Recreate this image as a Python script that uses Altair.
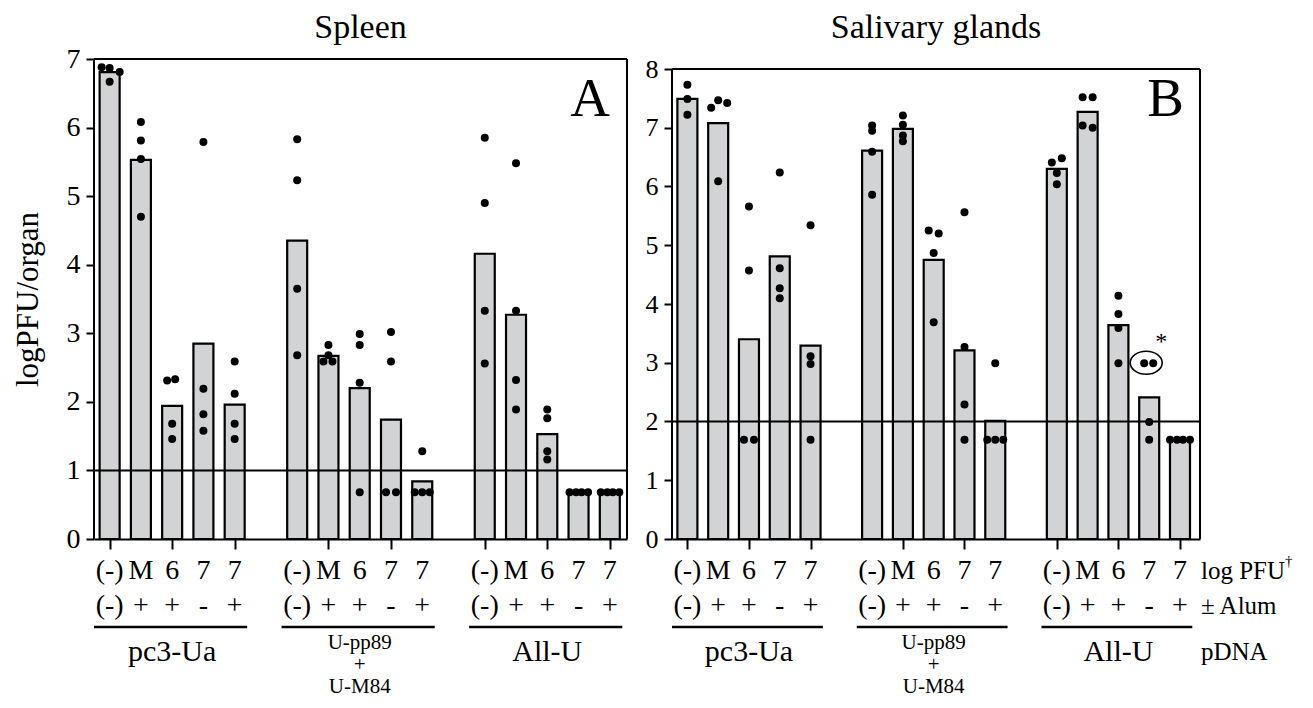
import altair as alt
import pandas as pd

FONT = "Liberation Serif"

dose_labels = ["(-)", "M", "6", "7", "7"]
alum_labels = ["(-)", "+", "+", "-", "+"]
group_names = ["pc3-Ua", "U-pp89\n+\nU-M84", "All-U"]

# ---- Panel A: Spleen ----
spleen_bars = [
    [6.81, 5.53, 1.94, 2.85, 1.96],
    [4.35, 2.67, 2.20, 1.74, 0.84],
    [4.16, 3.27, 1.53, 0.68, 0.68],
]
spleen_dots = [
    [[6.88, 6.87, 6.81, 6.67], [6.08, 5.81, 5.54, 4.70], [2.31, 2.33, 1.68, 1.46],
     [5.79, 2.19, 1.82, 1.58], [2.59, 2.12, 1.68, 1.46]],
    [[5.83, 5.23, 3.65, 2.68], [2.83, 2.68, 2.59, 2.59], [2.99, 2.83, 2.28, 0.68],
     [3.02, 2.59, 0.68, 0.68], [1.28, 0.68, 0.68, 0.68]],
    [[5.85, 4.90, 3.33, 2.56], [5.48, 3.33, 2.32, 1.89], [1.89, 1.76, 1.28, 1.16],
     [0.68, 0.68, 0.68, 0.68], [0.68, 0.68, 0.68, 0.68]],
]
spleen_jitter = [
    [[-8, 0, 10, 0], [0, 0, 0, 0], [-5, 3, 0, 0], [0, 0, 0, 0], [0, 0, 0, 0]],
    [[0, 0, 0, 0], [0, 0, -5, 4], [0, 0, 0, 0], [0, 0, -5, 5], [0, -7.5, 0, 7.5]],
    [[0, 0, 0, 0], [0, 0, 0, 0], [0, 0, 0, 0], [-9, -2.5, 3, 9.5], [-9, -2.5, 3, 9.5]],
]

# ---- Panel B: Salivary glands ----
saliva_bars = [
    [7.49, 7.08, 3.40, 4.81, 3.29],
    [6.61, 6.98, 4.75, 3.21, 2.01],
    [6.30, 7.27, 3.64, 2.41, 1.70],
]
saliva_dots = [
    [[7.73, 7.49, 7.22], [7.34, 7.47, 7.42, 6.09], [5.66, 4.57, 1.69, 1.69],
     [6.24, 4.61, 4.27, 4.10], [5.34, 3.11, 2.98, 1.69]],
    [[7.04, 6.95, 6.59, 5.86], [7.21, 7.05, 6.87, 6.77], [5.25, 5.20, 4.87, 3.69],
     [5.56, 3.27, 2.29, 1.69], [2.99, 1.69, 1.69, 1.69]],
    [[6.41, 6.48, 6.23, 6.04], [7.52, 7.52, 7.04, 7.00], [4.14, 3.83, 3.59, 2.99],
     [2.99, 2.99, 1.99, 1.69], [1.69, 1.69, 1.69, 1.69]],
]
saliva_jitter = [
    [[0, 0, 0], [-7, 0, 9, 0], [0, 0, -5, 5], [0, 0, 0, 0], [0, 0, 0, 0]],
    [[0, 0, 0, 0], [0, 0, 0, 0], [-5, 5, 0, 0], [0, 0, 0, 0], [0, -8, 0, 8]],
    [[-5, 5, 0, 0], [-5, 5, -5, 5], [0, 0, 0, 0], [-5, 4, 0, 0], [-10, -3, 3, 10]],
]

BAR_FILL = "#d2d3d5"


def txt(df, size, **kw):
    return alt.Chart(df).mark_text(font=FONT, fontSize=size, color="black", **kw)


def panel(bars, dots, jitter, top, ymax, xdom, width, height, thresh, letter,
          letter_x, title, ytitle, right_labels=False, circle=None):
    slot_px = width / (xdom[1] - xdom[0])
    positions = [g * 6 + i for g in range(3) for i in range(5)]
    bar_df = pd.DataFrame({
        "pos": positions,
        "v": [bars[g][i] for g in range(3) for i in range(5)],
    })
    drows = []
    for g in range(3):
        for i in range(5):
            for v, j in zip(dots[g][i], jitter[g][i]):
                drows.append({"x": g * 6 + i + j / slot_px, "v": v})
    dot_df = pd.DataFrame(drows)

    xs = alt.Scale(domain=xdom, nice=False, zero=False, padding=0)
    ys = alt.Scale(domain=[0, ymax], nice=False)

    x_axis = alt.Axis(values=positions, labels=False, title=None, tickSize=10,
                      tickWidth=2, tickColor="black", domainColor="black",
                      domainWidth=2, grid=False)
    y_axis_kw = dict(values=list(range(top + 1)), format="d", domain=False,
                     grid=False, tickSize=8, tickWidth=2, tickColor="black",
                     labelFont=FONT, labelFontSize=28 if ytitle else 26,
                     labelColor="black", labelPadding=6)
    if ytitle:
        y_axis = alt.Axis(title=ytitle, titleFont=FONT, titleFontSize=31,
                          titleFontWeight="normal", titleColor="black",
                          titlePadding=22, **y_axis_kw)
    else:
        y_axis = alt.Axis(title=None, **y_axis_kw)

    bar_layer = alt.Chart(bar_df).mark_bar(
        size=20, fill=BAR_FILL, stroke="black", strokeWidth=2.2
    ).encode(x=alt.X("pos:Q", scale=xs, axis=x_axis),
             y=alt.Y("v:Q", scale=ys, axis=y_axis))

    dot_layer = alt.Chart(dot_df).mark_circle(
        size=64, color="black", opacity=1
    ).encode(x=alt.X("x:Q", scale=xs), y=alt.Y("v:Q", scale=ys))

    thresh_layer = alt.Chart(pd.DataFrame({"v": [thresh]})).mark_rule(
        color="black", strokeWidth=2
    ).encode(y=alt.Y("v:Q", scale=ys))

    frame_top = alt.Chart(pd.DataFrame({"v": [top]})).mark_rule(
        color="black", strokeWidth=2
    ).encode(y=alt.Y("v:Q", scale=ys))
    frame_sides = alt.Chart(pd.DataFrame({
        "x": [xdom[0], xdom[1]], "y0": [0, 0], "y1": [top, top]
    })).mark_rule(color="black", strokeWidth=2).encode(
        x=alt.X("x:Q", scale=xs), y=alt.Y("y0:Q", scale=ys), y2="y1:Q")

    lab_df = pd.DataFrame({
        "pos": positions,
        "dose": dose_labels * 3,
        "alum": alum_labels * 3,
    })
    dose_layer = txt(lab_df, 28, baseline="middle").encode(
        x=alt.X("pos:Q", scale=xs), y=alt.value(height + 32), text="dose:N")
    alum_layer = txt(lab_df, 28, baseline="middle").encode(
        x=alt.X("pos:Q", scale=xs), y=alt.value(height + 67), text="alum:N")

    ul_df = pd.DataFrame({"x0": [g * 6 - 0.5 for g in range(3)],
                          "x1": [g * 6 + 4.4 for g in range(3)]})
    ul_layer = alt.Chart(ul_df).mark_rule(color="black", strokeWidth=2.5).encode(
        x=alt.X("x0:Q", scale=xs), x2="x1:Q", y=alt.value(height + 88))

    g_df = pd.DataFrame({"pos": [2, 14], "name": [group_names[0], group_names[2]]})
    g_layer = txt(g_df, 30, baseline="middle").encode(
        x=alt.X("pos:Q", scale=xs), y=alt.value(height + 113), text="name:N")
    mid_lines = group_names[1].split("\n")
    m_df = pd.DataFrame({"pos": [8] * 3, "name": mid_lines,
                         "yy": [height + 104, height + 126, height + 148]})
    m_layer = txt(m_df, 21, baseline="middle").encode(
        x=alt.X("pos:Q", scale=xs), y=alt.Y("yy:Q", scale=None), text="name:N")

    letter_layer = txt(pd.DataFrame({"t": [letter]}), 55, align="right",
                       baseline="alphabetic").encode(
        x=alt.value(letter_x), y=alt.value(57), text="t:N")

    title_layer = txt(pd.DataFrame({"t": [title]}), 34, align="center",
                      baseline="alphabetic").encode(
        x=alt.value(width / 2), y=alt.value(-21), text="t:N")

    layers = [bar_layer, thresh_layer, frame_top, frame_sides, dot_layer,
              dose_layer, alum_layer, ul_layer, g_layer, m_layer, letter_layer,
              title_layer]

    if circle is not None:
        cx, cy, ax, ay = circle
        ell = alt.Chart(pd.DataFrame({"x": [cx + (-3) / slot_px], "v": [cy]})).mark_point(
            shape="M-1,0 A1,0.72 0 1,1 1,0 A1,0.72 0 1,1 -1,0 Z",
            size=1024, filled=False, stroke="black", strokeWidth=1.6, opacity=1
        ).encode(x=alt.X("x:Q", scale=xs), y=alt.Y("v:Q", scale=ys))
        star = txt(pd.DataFrame({"x": [ax], "v": [ay], "t": ["*"]}), 24,
                   baseline="middle").encode(
            x=alt.X("x:Q", scale=xs), y=alt.Y("v:Q", scale=ys), text="t:N")
        layers += [ell, star]

    if right_labels:
        r_df = pd.DataFrame({"t": ["log PFU", "\u00b1 Alum", "pDNA"],
                             "yy": [height + 32, height + 67, height + 113]})
        r_layer = txt(r_df, 25, align="left", baseline="middle").encode(
            x=alt.value(width + 1), y=alt.Y("yy:Q", scale=None), text="t:N")
        dag = txt(pd.DataFrame({"t": ["\u2020"]}), 15, align="left",
                  baseline="middle").encode(
            x=alt.value(width + 85), y=alt.value(height + 22), text="t:N")
        layers += [r_layer, dag]

    return alt.layer(*layers).properties(width=width, height=height)


panelA = panel(spleen_bars, spleen_dots, spleen_jitter, top=7, ymax=7,
               xdom=[-0.5, 16.55], width=533, height=480, thresh=1,
               letter="A", letter_x=516, title="Spleen", ytitle="logPFU/organ")

panelB = panel(saliva_bars, saliva_dots, saliva_jitter, top=8, ymax=8 * 480 / 470,
               xdom=[-0.5, 16.65], width=528, height=480, thresh=2,
               letter="B", letter_x=512, title="Salivary glands", ytitle=None,
               right_labels=True, circle=(15, 3.0, 15.39, 3.35))

chart = alt.hconcat(panelA, panelB, spacing=17).properties(
    padding={"left": 4, "top": 3, "right": 0, "bottom": 0}
).configure_view(stroke=None).configure_concat(spacing=17)

chart.save("out.html", embed_options={"renderer": "svg", "actions": False})
